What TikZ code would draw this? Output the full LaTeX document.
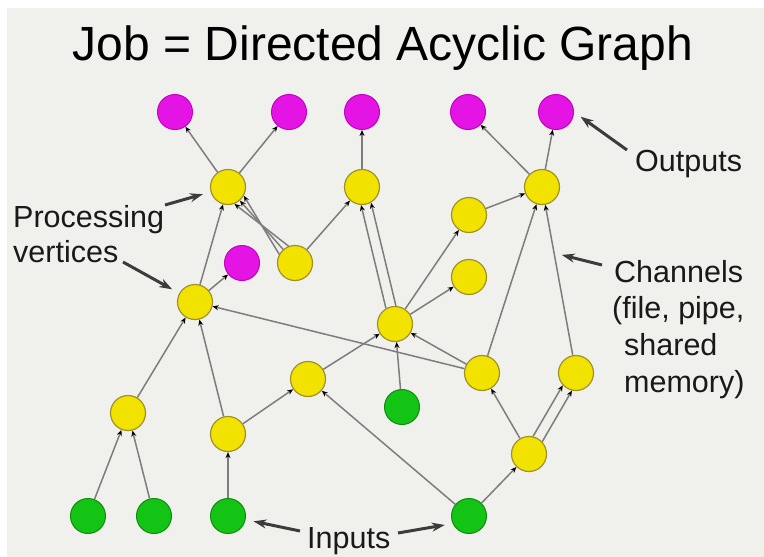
\documentclass[tikz,border=0pt]{standalone}
\usepackage{fontspec}
\setmainfont{Liberation Sans}
\usepackage{tikz}
\usetikzlibrary{arrows.meta, positioning, calc}
\usepackage{xcolor}
\definecolor{slidebg}{RGB}{240,241,237}
\definecolor{vyel}{RGB}{242,226,0}
\definecolor{vyeld}{RGB}{160,145,40}
\definecolor{vmag}{RGB}{228,20,228}
\definecolor{vmagd}{RGB}{195,0,195}
\definecolor{vgrn}{RGB}{20,196,20}
\definecolor{vgrnd}{RGB}{15,140,15}
\definecolor{chgray}{RGB}{125,125,125}
\definecolor{notegray}{RGB}{60,60,60}

\begin{document}
\begin{tikzpicture}[x=1pt,y=-1pt,
  proc/.style={circle,draw=vyeld,fill=vyel,line width=1.2pt,minimum size=35pt,inner sep=0pt},
  outv/.style={circle,draw=vmagd,fill=vmag,line width=1pt,minimum size=35pt,inner sep=0pt},
  inv/.style={circle,draw=vgrnd,fill=vgrn,line width=1pt,minimum size=35pt,inner sep=0pt},
  ch/.style={draw=chgray,line width=1.5pt,-{Stealth[length=6pt,width=5pt,black]}},
  pointer/.style={draw=notegray,line width=3pt,-{Stealth[length=13pt,width=9pt]},shorten >=8pt},
  lbl/.style={font=\fontsize{30.5}{36.6}\selectfont,text=black!90,inner sep=0pt,anchor=base west}]
  \fill[white] (0,0) rectangle (764,557);
  \fill[slidebg] (7,8) rectangle (764,557);
  \node[anchor=base,font=\fontsize{48}{50}\selectfont,inner sep=0pt] (title) at (383,60) {Job = Directed Acyclic Graph};

  % outputs
  \node[outv] (o1) at (175,112) {};
  \node[outv] (o2) at (289,112) {};
  \node[outv] (o3) at (362,112) {};
  \node[outv] (o4) at (468,112) {};
  \node[outv] (o5) at (556,112) {};
  \node[outv] (o6) at (242,263) {};
  % processing vertices
  \node[proc] (p1) at (228,187) {};
  \node[proc] (p2) at (295,263) {};
  \node[proc] (p3) at (362,187) {};
  \node[proc] (p4) at (195,302) {};
  \node[proc] (p5) at (542,187) {};
  \node[proc] (p6) at (469,215) {};
  \node[proc] (p7) at (469,277) {};
  \node[proc] (p8) at (395,324) {};
  \node[proc] (p9) at (482,373) {};
  \node[proc] (p10) at (576,373) {};
  \node[proc] (p11) at (529,454) {};
  \node[proc] (p12) at (308,379) {};
  \node[proc] (p13) at (128,413) {};
  \node[proc] (p14) at (228,434) {};
  % inputs
  \node[inv] (i1) at (88,516) {};
  \node[inv] (i2) at (154,516) {};
  \node[inv] (i3) at (228,516) {};
  \node[inv] (i4) at (469,516) {};
  \node[inv] (i5) at (402,407) {};

  % channels
  \draw[ch] (p1) -- (o1);
  \draw[ch] (p1) -- (o2);
  \draw[ch] (p3) -- (o3);
  \draw[ch] (p5) -- (o4);
  \draw[ch] (p5) -- (o5);
  \draw[ch] (p4) -- (o6);
  \draw[ch] (p4) -- (p1);
  \draw[ch] (p2.111) -- (p1.291);
  \draw[ch] (p2.131) -- (p1.311);
  \draw[ch] (p2.151) -- (p1.331);
  \draw[ch] (p2) -- (p3);
  \draw[ch] (p8.120) -- (p3.267);
  \draw[ch] (p8.87) -- (p3.300);
  \draw[ch] (p8) -- (p6);
  \draw[ch] (p8) -- (p7);
  \draw[ch] (p6) -- (p5);
  \draw[ch] (p9) -- (p5);
  \draw[ch] (p10) -- (p5);
  \draw[ch] (p9) -- (p8);
  \draw[ch] (p9) -- (p4);
  \draw[ch] (p12) -- (p8);
  \draw[ch] (p14) -- (p12);
  \draw[ch] (p14) -- (p4);
  \draw[ch] (p13) -- (p4);
  \draw[ch] (i4) -- (p12);
  \draw[ch] (i5) -- (p8);
  \draw[ch] (i4) -- (p11);
  \draw[ch] (p11) -- (p9);
  \draw[ch] (p11.77) -- (p10.223);
  \draw[ch] (p11.43) -- (p10.257);
  \draw[ch] (i1) -- (p13);
  \draw[ch] (i2) -- (p13);
  \draw[ch] (i3) -- (p14);

  % labels
  \node[lbl] (proc) at (13,227) {Processing};
  \node[lbl] (vert) at (13,262) {vertices};
  \node[lbl] (outl) at (635,171) {Outputs};
  \node[lbl] (chl1) at (614,282) {Channels};
  \node[lbl] (chl2) at (612,318) {(file, pipe,};
  \node[lbl] (chl3) at (624,355) {shared};
  \node[lbl] (chl4) at (624,392) {memory)};
  \node[lbl] (inl) at (307,548) {Inputs};

  % pointers
  \coordinate (procA) at (165,205);
  \coordinate (procB) at (123,262);
  \coordinate (outA) at (627,150);
  \coordinate (chA) at (602,265);
  \coordinate (chpt) at (554,253);
  \coordinate (inA) at (300,531);
  \coordinate (inB) at (398,533);
  \draw[pointer] (procA) -- (p1);
  \draw[pointer] (procB) -- (p4);
  \draw[pointer] (outA) -- (o5.east);
  \draw[pointer] (chA) -- (chpt);
  \draw[pointer] (inA) -- (i3);
  \draw[pointer] (inB) -- (i4.205);
\end{tikzpicture}
\end{document}
